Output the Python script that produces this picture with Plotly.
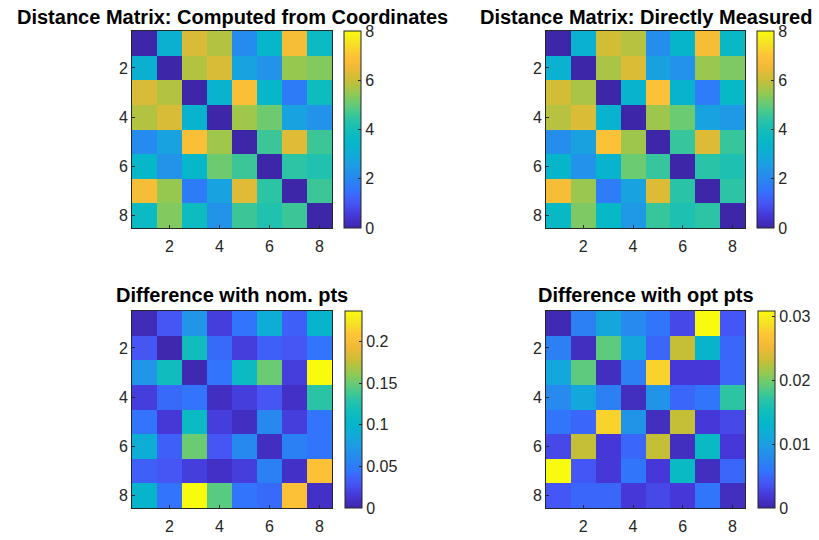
import plotly.graph_objects as go

labels = [1, 2, 3, 4, 5, 6, 7, 8]
tick_vals = [2, 4, 6, 8]

computed = [
    [0.00, 3.20, 6.20, 5.80, 2.10, 3.50, 6.70, 3.70],
    [3.20, 0.00, 5.80, 6.20, 2.70, 2.30, 5.50, 5.30],
    [6.20, 5.80, 0.00, 3.30, 6.80, 3.50, 1.70, 3.80],
    [5.80, 6.20, 3.30, 0.00, 5.60, 5.10, 2.70, 2.30],
    [2.10, 2.70, 6.80, 5.60, 0.00, 4.60, 6.30, 4.60],
    [3.50, 2.30, 3.50, 5.10, 4.60, 0.00, 4.40, 4.20],
    [6.70, 5.50, 1.70, 2.70, 6.30, 4.40, 0.00, 4.60],
    [3.70, 5.30, 3.80, 2.30, 4.60, 4.20, 4.60, 0.00],
]

measured = [
    [0.00, 3.23, 6.13, 5.82, 2.15, 3.41, 6.73, 3.60],
    [3.23, 0.00, 5.69, 6.24, 2.68, 2.27, 5.53, 5.26],
    [6.13, 5.69, 0.00, 3.35, 6.91, 3.35, 1.72, 3.56],
    [5.82, 6.24, 3.35, 0.00, 5.58, 5.07, 2.71, 2.43],
    [2.15, 2.68, 6.91, 5.58, 0.00, 4.54, 6.28, 4.55],
    [3.41, 2.27, 3.35, 5.07, 4.54, 0.00, 4.35, 4.16],
    [6.73, 5.53, 1.72, 2.71, 6.28, 4.35, 0.00, 4.40],
    [3.60, 5.26, 3.56, 2.45, 4.55, 4.16, 4.40, 0.00],
]

diff_nom = [
    [0.005, 0.030, 0.070, 0.018, 0.045, 0.090, 0.035, 0.100],
    [0.030, 0.002, 0.115, 0.040, 0.018, 0.035, 0.030, 0.045],
    [0.070, 0.115, 0.003, 0.045, 0.110, 0.150, 0.018, 0.237],
    [0.018, 0.040, 0.045, 0.008, 0.018, 0.030, 0.010, 0.130],
    [0.045, 0.015, 0.110, 0.018, 0.008, 0.060, 0.018, 0.045],
    [0.090, 0.035, 0.150, 0.030, 0.060, 0.008, 0.055, 0.045],
    [0.035, 0.030, 0.018, 0.010, 0.018, 0.055, 0.010, 0.205],
    [0.100, 0.045, 0.237, 0.145, 0.045, 0.040, 0.205, 0.010],
]

diff_opt = [
    [0.0005, 0.0070, 0.0110, 0.0080, 0.0060, 0.0030, 0.0308, 0.0040],
    [0.0070, 0.0010, 0.0190, 0.0110, 0.0050, 0.0230, 0.0130, 0.0050],
    [0.0110, 0.0190, 0.0010, 0.0070, 0.0280, 0.0020, 0.0020, 0.0050],
    [0.0080, 0.0110, 0.0070, 0.0010, 0.0090, 0.0050, 0.0060, 0.0170],
    [0.0060, 0.0050, 0.0280, 0.0090, 0.0010, 0.0230, 0.0020, 0.0030],
    [0.0030, 0.0230, 0.0020, 0.0050, 0.0230, 0.0010, 0.0140, 0.0020],
    [0.0308, 0.0040, 0.0020, 0.0060, 0.0020, 0.0140, 0.0010, 0.0050],
    [0.0040, 0.0050, 0.0050, 0.0020, 0.0030, 0.0020, 0.0060, 0.0010],
]

titles = [
    "Distance Matrix: Computed from Coordinates",
    "Distance Matrix: Directly Measured",
    "Difference with nom. pts",
    "Difference with opt pts",
]

parula = [
    [0.000, "rgb(62,38,168)"],
    [0.063, "rgb(70,55,215)"],
    [0.125, "rgb(70,85,245)"],
    [0.188, "rgb(50,115,252)"],
    [0.250, "rgb(40,135,240)"],
    [0.313, "rgb(30,155,228)"],
    [0.375, "rgb(15,172,215)"],
    [0.438, "rgb(5,183,200)"],
    [0.500, "rgb(20,190,185)"],
    [0.563, "rgb(50,197,160)"],
    [0.625, "rgb(100,203,120)"],
    [0.688, "rgb(150,200,80)"],
    [0.750, "rgb(200,190,55)"],
    [0.813, "rgb(240,185,55)"],
    [0.875, "rgb(254,195,55)"],
    [0.938, "rgb(245,225,35)"],
    [1.000, "rgb(249,251,14)"],
]

W, H = 819, 540
# pixel boxes: (x0, x1, y0_top, y1_bottom)
boxes = [(132, 332, 31, 228), (546, 745, 31, 228), (132, 332, 311, 508), (546, 745, 311, 508)]
cbar_x = [344, 757, 345, 758]
title_bottom = [30, 30, 308, 308]
zranges = [(0, 8), (0, 8), (0, 0.237), (0, 0.0308)]
cticks = [[0, 2, 4, 6, 8], [0, 2, 4, 6, 8], [0, 0.05, 0.1, 0.15, 0.2], [0, 0.01, 0.02, 0.03]]
cticktext = [["0", "2", "4", "6", "8"], ["0", "2", "4", "6", "8"],
             ["0", "0.05", "0.1", "0.15", "0.2"], ["0", "0.01", "0.02", "0.03"]]
data = [computed, measured, diff_nom, diff_opt]

axcol = "#262626"
font_fam = "Liberation Sans, Arial, sans-serif"
tick_font = dict(size=16, color=axcol, family=font_fam)

fig = go.Figure()
for i in range(4):
    x0, x1, yt, yb = boxes[i]
    xa = "x" if i == 0 else f"x{i+1}"
    ya = "y" if i == 0 else f"y{i+1}"
    cb_len = (yb - yt) / H
    cb_y = 1 - (yt + yb) / 2 / H
    fig.add_trace(go.Heatmap(
        z=data[i], x=labels, y=labels, xaxis=xa, yaxis=ya,
        colorscale=parula, zmin=zranges[i][0], zmax=zranges[i][1],
        colorbar=dict(
            x=cbar_x[i] / W, xanchor="left", y=cb_y, yanchor="middle",
            len=cb_len, lenmode="fraction", thickness=17, thicknessmode="pixels",
            xpad=0, ypad=0, outlinewidth=1, outlinecolor=axcol,
            tickvals=cticks[i], ticktext=cticktext[i],
            ticks="inside", ticklen=3, tickcolor=axcol,
            tickfont=tick_font,
        ),
    ))
    axkey = "xaxis" if i == 0 else f"xaxis{i+1}"
    aykey = "yaxis" if i == 0 else f"yaxis{i+1}"
    fig.layout[axkey] = dict(
        domain=[x0 / W, x1 / W], anchor=ya, range=[0.5, 8.5],
        tickvals=tick_vals, ticks="inside", ticklen=3, tickcolor=axcol,
        showline=True, mirror=True, linecolor=axcol, linewidth=1,
        showgrid=False, zeroline=False, ticklabelstandoff=4,
        tickfont=tick_font,
    )
    fig.layout[aykey] = dict(
        domain=[1 - yb / H, 1 - yt / H], anchor=xa, range=[8.5, 0.5],
        tickvals=tick_vals, ticks="inside", ticklen=3, tickcolor=axcol,
        showline=True, mirror=True, linecolor=axcol, linewidth=1,
        showgrid=False, zeroline=False,
        tickfont=tick_font,
    )
    fig.add_annotation(
        text="<b>" + titles[i] + "</b>", xref="paper", yref="paper",
        x=(x0 + x1) / 2 / W, y=1 - title_bottom[i] / H, xanchor="center", yanchor="bottom",
        showarrow=False, font=dict(size=20, color="black", family=font_fam),
    )

fig.update_layout(
    width=W, height=H, margin=dict(l=0, r=0, t=0, b=0),
    paper_bgcolor="white", plot_bgcolor="white", showlegend=False,
)
fig.write_html("out.html")
